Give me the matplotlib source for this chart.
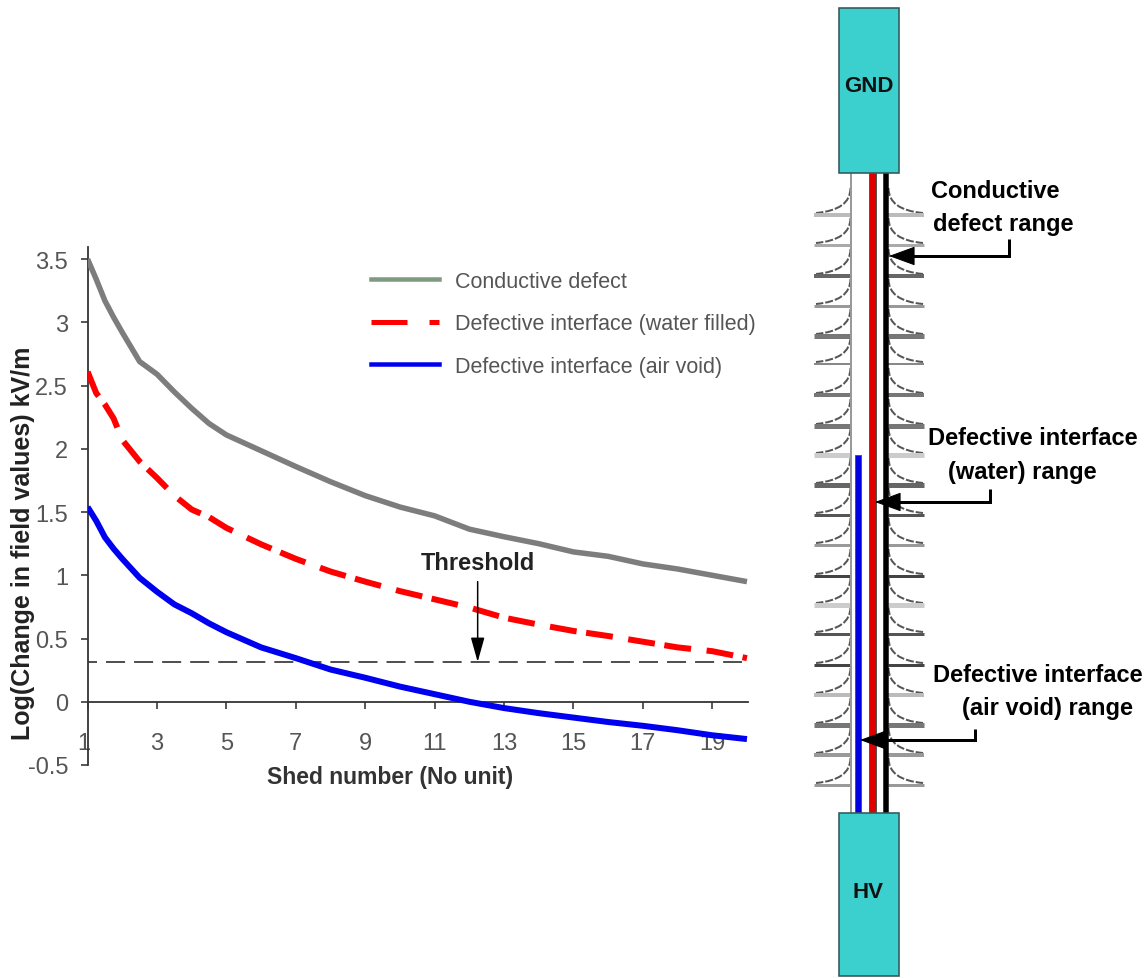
import matplotlib
matplotlib.use("Agg")
import matplotlib.pyplot as plt
from matplotlib.lines import Line2D
from matplotlib.patches import PathPatch, Rectangle
from matplotlib.path import Path
from matplotlib.transforms import ScaledTranslation

W, H = 1148, 979
plt.rcParams['font.family'] = ['Liberation Sans', 'DejaVu Sans']
PX = 0.72  # points per pixel at dpi 100

# ---------- chart data ----------
shed = [1, 1.25, 1.5, 1.75, 2, 2.5, 3, 3.5, 4, 4.5, 5, 6, 7, 8, 9, 10, 11, 12, 13, 14, 15, 16, 17, 18, 19, 20]
conductive = [3.50, 3.34, 3.17, 3.04, 2.92, 2.69, 2.59, 2.45, 2.32, 2.20, 2.11, 1.985, 1.86, 1.74, 1.63, 1.54,
              1.47, 1.365, 1.305, 1.25, 1.185, 1.15, 1.09, 1.05, 1.00, 0.95]
water = [2.61, 2.44, 2.35, 2.24, 2.07, 1.90, 1.77, 1.63, 1.52, 1.46, 1.375, 1.245, 1.13, 1.03, 0.95, 0.875,
         0.81, 0.745, 0.665, 0.61, 0.56, 0.52, 0.475, 0.43, 0.40, 0.345]
air = [1.54, 1.43, 1.30, 1.21, 1.13, 0.98, 0.87, 0.77, 0.70, 0.62, 0.55, 0.43, 0.345, 0.255, 0.19, 0.12,
       0.06, 0.0, -0.05, -0.09, -0.125, -0.16, -0.19, -0.225, -0.265, -0.295]
threshold = 0.315
threshold_x = [1.0, 19.86]
x_ticks = [1, 3, 5, 7, 9, 11, 13, 15, 17, 19]
y_ticks = [-0.5, 0, 0.5, 1, 1.5, 2, 2.5, 3, 3.5]
y_tick_labels = ['-0.5', '0', '0.5', '1', '1.5', '2', '2.5', '3', '3.5']
series_labels = ['Conductive defect', 'Defective interface (water filled)', 'Defective interface (air void)']
annot_x = 12.24

# ---------- diagram data ----------
shed_y = [216, 246, 277, 307, 337, 365, 396, 427, 456, 486, 516, 546, 577, 606, 635, 666, 696, 726, 756, 786]
shed_grey = ['#bbbbbb', '#aaaaaa', '#666666', '#999999', '#777777', '#888888', '#777777', '#777777', '#cccccc', '#666666',
             '#555555', '#999999', '#444444', '#cccccc', '#555555', '#444444', '#bbbbbb', '#777777', '#999999', '#999999']
shed_w = [4, 3, 4, 3, 5, 2, 4, 5, 5, 5, 3, 3, 3, 5, 3, 3, 4, 5, 4, 3]

fig = plt.figure(figsize=(W / 100, H / 100), dpi=100, facecolor='white')


def rect_px(l, t, r, b):
    return [l / W, 1 - b / H, (r - l) / W, (b - t) / H]


# ---------- chart ----------
ax = fig.add_axes(rect_px(87.6, 247.5, 748, 766))
ax.set_xlim(1, 20.03)
ax.set_ylim(-0.5, 3.6)
ax.patch.set_alpha(0)
ax.plot(shed, conductive, color='#7d7d7d', lw=5.5 * PX, solid_capstyle='butt', zorder=3)
ax.plot(shed, water, color='#ff0000', lw=6 * PX, dashes=(4.5, 1.6, 4.5, 2.6), dash_capstyle='butt', zorder=3)
ax.plot(shed, air, color='#0000f0', lw=6 * PX, solid_capstyle='butt', zorder=3)
ax.plot(threshold_x, [threshold, threshold], color='#333333', lw=1.7 * PX,
        ls=(5.9, (11.2, 5.3)), dash_capstyle='butt', zorder=2)

for s in ['top', 'right']:
    ax.spines[s].set_visible(False)
ax.spines['bottom'].set_position(('data', 0))
ax.spines['bottom'].set_color('#333333')
ax.spines['left'].set_color('#333333')
ax.spines['bottom'].set_linewidth(1.8 * PX)
ax.spines['left'].set_linewidth(1.8 * PX)
ax.set_xticks(x_ticks)
ax.set_xticklabels([str(v) for v in x_ticks])
ax.set_yticks(y_ticks)
ax.set_yticklabels(y_tick_labels)
ax.tick_params(axis='x', length=7 * PX, width=1.6 * PX, color='#333333', labelsize=17, labelcolor='#555555', pad=17)
ax.tick_params(axis='y', length=7 * PX, width=1.6 * PX, color='#333333', labelsize=17, labelcolor='#555555', pad=9)
first = ax.get_xticklabels()[0]
first.set_transform(first.get_transform() + ScaledTranslation(-4 / 100, 0, fig.dpi_scale_trans))

fig.text(23 / W, 1 - 543 / H, 'Log(Change in field values) kV/m', rotation=90, ha='center', va='center',
         fontsize=18, fontweight='bold', color='#222222')
fig.text(390 / W, 1 - 778 / H, 'Shed number (No unit)', ha='center', va='center',
         fontsize=16.5, fontweight='bold', color='#333333')

ax.annotate('', xy=(annot_x, threshold), xytext=(annot_x, 0.95),
            arrowprops=dict(arrowstyle='-|>,head_length=1.5,head_width=0.42', color='black', lw=1.5 * PX,
                            shrinkA=0, shrinkB=0), zorder=4)
ax.text(annot_x, 1.1, 'Threshold', ha='center', va='center', fontsize=17, fontweight='bold', color='#222222')

handles = [Line2D([], [], color='#7f9a80', lw=4.5 * PX),
           Line2D([], [], color='#ff0000', lw=5 * PX, dashes=(7.2, 4.4, 2.2, 4.4), dash_capstyle='butt'),
           Line2D([], [], color='#0000f0', lw=4.5 * PX)]
leg = ax.legend(handles, series_labels, loc='upper left', bbox_to_anchor=((362 - 87.6) / 660.4, (766 - 263) / 518.5),
                frameon=False, fontsize=15.5, labelcolor='#555555', handlelength=3.16, handletextpad=0.74,
                labelspacing=1.0, borderpad=0, borderaxespad=0.4)

# ---------- diagram (pixel coordinates) ----------
dg = fig.add_axes([0, 0, 1, 1], zorder=-1)
dg.set_xlim(0, W)
dg.set_ylim(H, 0)
dg.axis('off')

for y, c, w in zip(shed_y, shed_grey, shed_w):
    dg.plot([814, 851], [y, y], color=c, lw=w * PX, solid_capstyle='butt')
    dg.plot([888, 924], [y, y], color=c, lw=w * PX, solid_capstyle='butt')
    for wall, out in ((850.5, 816), (888.5, 923)):
        dg.add_patch(PathPatch(Path([(wall, y - 27), (wall, y - 5), (out, y - 2)],
                                    [Path.MOVETO, Path.CURVE3, Path.CURVE3]),
                               fc='none', ec='#555555', lw=2 * PX, ls=(0, (4, 1))))

dg.plot([851, 851], [174, 814], color='#999999', lw=2 * PX, solid_capstyle='butt')
dg.plot([885.5, 885.5], [174, 814], color='black', lw=5.5 * PX, solid_capstyle='butt')
dg.add_patch(Rectangle((868.5, 174), 7, 640, fc='#e00000', ec='#555555', lw=1 * PX))
dg.add_patch(Rectangle((854.5, 456), 6, 358, fc='#0000e0', ec='#555555', lw=1 * PX))
dg.add_patch(Rectangle((838.5, 9), 60.5, 165, fc='#3bd0ce', ec='#33585a', lw=1.6 * PX, zorder=4))
dg.add_patch(Rectangle((838.5, 814), 60.5, 163, fc='#3bd0ce', ec='#33585a', lw=1.6 * PX, zorder=4))
dg.text(868.5, 86, 'GND', ha='center', va='center', fontsize=16, fontweight='bold', color='#111111', zorder=5)
dg.text(868.5, 893, 'HV', ha='center', va='center', fontsize=16, fontweight='bold', color='#111111', zorder=5)

TXT = dict(ha='center', va='center', fontsize=17, color='black', fontweight='bold')
dg.text(995, 191, 'Conductive', **TXT)
dg.text(1003, 225, 'defect range', **TXT)
dg.text(1033, 439, 'Defective interface', **TXT)
dg.text(1022, 473, '(water) range', **TXT)
dg.text(1038, 676, 'Defective interface', **TXT)
dg.text(1047, 709, '(air void) range', **TXT)


def callout(pts, tip):
    xs, ys = zip(*pts)
    dg.plot(xs, ys, color='black', lw=3 * PX, solid_capstyle='butt', solid_joinstyle='miter')
    dg.annotate('', xy=tip, xytext=pts[-1],
                arrowprops=dict(arrowstyle='-|>,head_length=1.7,head_width=0.62', color='black', lw=1 * PX,
                                shrinkA=0, shrinkB=0))


callout([(1009, 240), (1009, 257), (912, 257)], (889, 257))
callout([(990, 490), (990, 503), (898, 503)], (875, 503))
callout([(975, 730), (975, 741), (884, 741)], (860, 741))

fig.savefig('out.png', dpi=100)
